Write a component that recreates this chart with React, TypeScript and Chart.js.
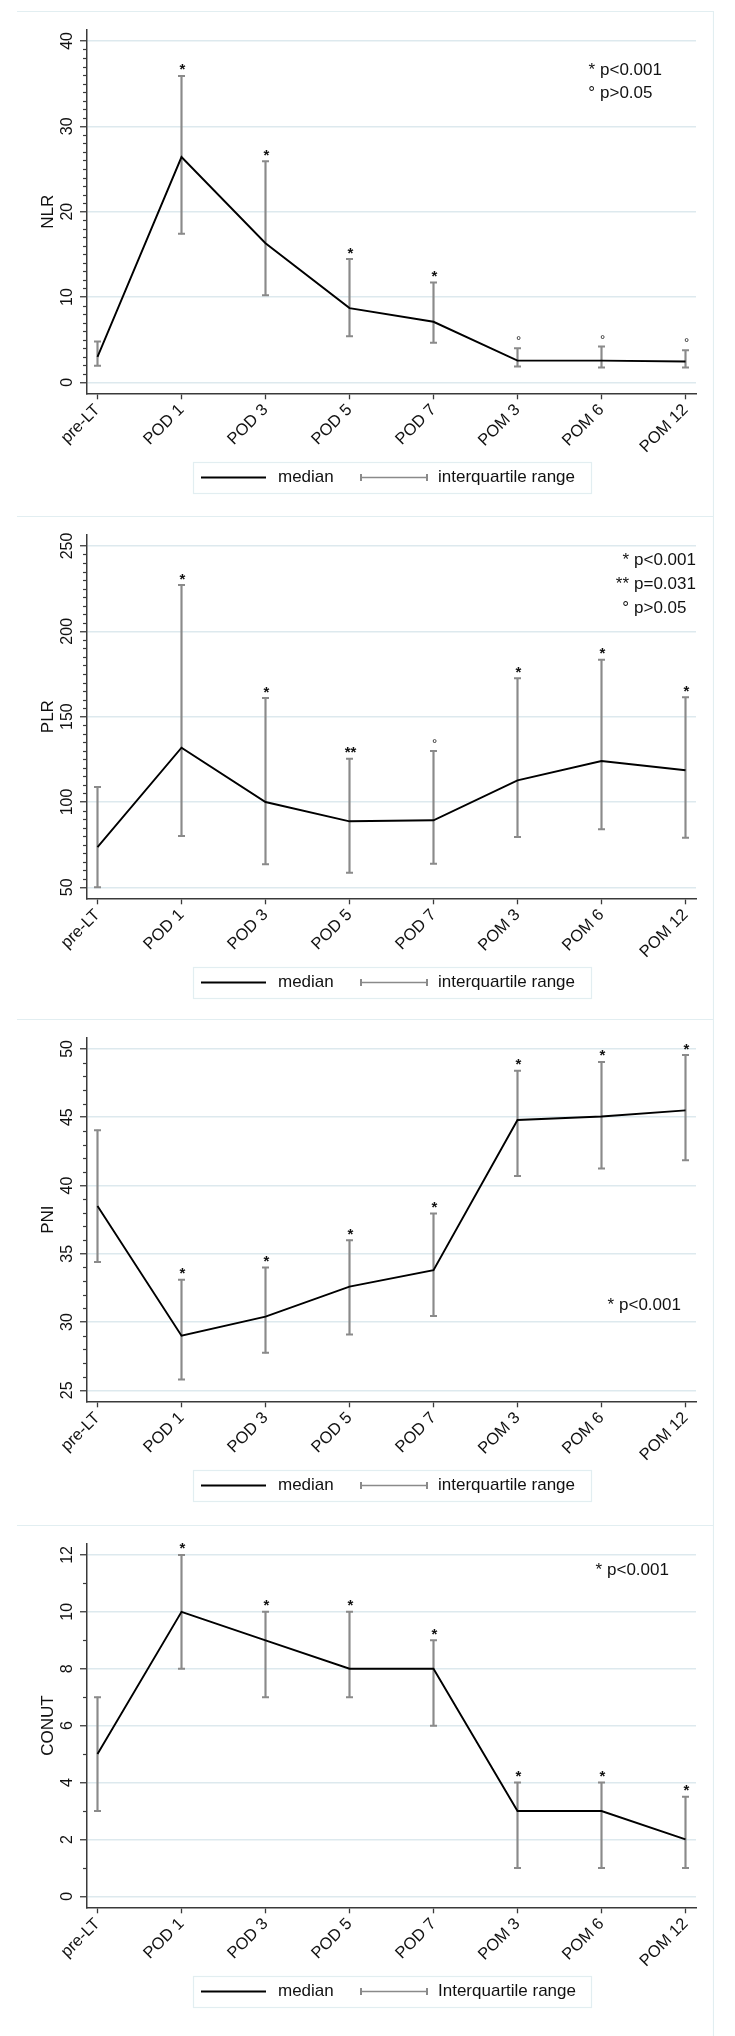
import React, { useEffect, useRef } from 'react';
import { Chart, registerables } from 'chart.js';

Chart.register(...registerables);

// ---------- data ----------
const categories = ['pre-LT', 'POD 1', 'POD 3', 'POD 5', 'POD 7', 'POM 3', 'POM 6', 'POM 12'];

const nlrMedian = [3.0, 26.4, 16.3, 8.7, 7.1, 2.55, 2.55, 2.45];
const nlrQ1 = [1.95, 17.4, 10.2, 5.4, 4.65, 1.85, 1.75, 1.75];
const nlrQ3 = [4.8, 35.9, 25.9, 14.45, 11.7, 4.0, 4.2, 3.75];
const nlrSig = ['', '*', '*', '*', '*', '°', '°', '°'];
const nlrTicks = [0, 10, 20, 30, 40];

const plrMedian = [73.6, 131.8, 100, 88.7, 89.3, 112.7, 124, 118.6];
const plrQ1 = [50, 80.1, 63.5, 58.6, 63.9, 79.5, 84, 79.1];
const plrQ3 = [108.8, 227.1, 160.9, 125.4, 129.9, 172.5, 183.4, 161.3];
const plrSig = ['', '*', '*', '**', '°', '*', '*', '*'];
const plrTicks = [50, 100, 150, 200, 250];

const pniMedian = [38.5, 29.0, 30.4, 32.6, 33.8, 44.8, 45.05, 45.5];
const pniQ1 = [34.4, 25.8, 27.75, 29.1, 30.45, 40.7, 41.25, 41.85];
const pniQ3 = [44.05, 33.1, 34.0, 36.0, 37.95, 48.4, 49.05, 49.55];
const pniSig = ['', '*', '*', '*', '*', '*', '*', '*'];
const pniTicks = [25, 30, 35, 40, 45, 50];

const conutMedian = [5, 10, 9, 8, 8, 3, 3, 2];
const conutQ1 = [3, 8, 7, 7, 6, 1, 1, 1];
const conutQ3 = [7, 12, 10, 10, 9, 4, 4, 3.5];
const conutSig = ['', '*', '*', '*', '*', '*', '*', '*'];
const conutTicks = [0, 2, 4, 6, 8, 10, 12];

const nlrNotes = [['*', 'p<0.001'], ['°', 'p>0.05']];
const plrNotes = [['*', 'p<0.001'], ['**', 'p=0.031'], ['°', 'p>0.05']];
const pniNotes = [['*', 'p<0.001']];
const conutNotes = [['*', 'p<0.001']];

// ---------- styles ----------
const FONT = '"Liberation Sans", Arial, Helvetica, sans-serif';
const GRID = '#dde9ee';
const FRAME = '#e2eef1';
const AXIS = '#3a3a3a';
const RANGE = '#8a8a8a';
const TEXT = '#111111';
const CANVAS_W = 697;

const panels = [
  { title: 'NLR', median: nlrMedian, q1: nlrQ1, q3: nlrQ3, sig: nlrSig, yTicks: nlrTicks, minorStep: 1,
    notes: nlrNotes, noteX: 583, noteY: 59, noteGap: 23, rangeLabel: 'interquartile range', top: 11, height: 505 },
  { title: 'PLR', median: plrMedian, q1: plrQ1, q3: plrQ3, sig: plrSig, yTicks: plrTicks, minorStep: 5,
    notes: plrNotes, noteX: 617, noteY: 44, noteGap: 24, rangeLabel: 'interquartile range', top: 516, height: 503 },
  { title: 'PNI', median: pniMedian, q1: pniQ1, q3: pniQ3, sig: pniSig, yTicks: pniTicks, minorStep: 1,
    notes: pniNotes, noteX: 602, noteY: 286, noteGap: 24, rangeLabel: 'interquartile range', top: 1019, height: 506 },
  { title: 'CONUT', median: conutMedian, q1: conutQ1, q3: conutQ3, sig: conutSig, yTicks: conutTicks, minorStep: 1,
    notes: conutNotes, noteX: 590, noteY: 45, noteGap: 24, rangeLabel: 'Interquartile range', top: 1525, height: 511 },
];

const decorPlugin: any = {
  id: 'decor',
  afterDraw(chart: any, _args: any, opts: any) {
    const { ctx, chartArea, scales } = chart;
    const xs = scales.x;
    const ys = scales.y;
    ctx.save();

    // panel frame (top + right)
    ctx.strokeStyle = FRAME;
    ctx.lineWidth = 1.2;
    ctx.beginPath();
    ctx.moveTo(0, 0.5);
    ctx.lineTo(chart.width - 0.5, 0.5);
    ctx.lineTo(chart.width - 0.5, chart.height);
    ctx.stroke();

    // minor ticks
    const ticks: number[] = opts.yTicks;
    const lo = ticks[0];
    const hi = ticks[ticks.length - 1];
    ctx.strokeStyle = AXIS;
    ctx.lineWidth = 1.2;
    const n = Math.round((hi - lo) / opts.minorStep);
    for (let k = 0; k <= n; k++) {
      const v = lo + k * opts.minorStep;
      if (ticks.some((t) => Math.abs(t - v) < 1e-9)) continue;
      const py = Math.round(ys.getPixelForValue(v)) + 0.5;
      ctx.beginPath();
      ctx.moveTo(chartArea.left - 4, py);
      ctx.lineTo(chartArea.left, py);
      ctx.stroke();
    }

    // y tick labels (rotated)
    ctx.fillStyle = TEXT;
    ctx.font = `16px ${FONT}`;
    ctx.textAlign = 'center';
    ctx.textBaseline = 'alphabetic';
    for (const t of ticks) {
      const py = ys.getPixelForValue(t);
      ctx.save();
      ctx.translate(chartArea.left - 15.5, py);
      ctx.rotate(-Math.PI / 2);
      ctx.fillText(String(t), 0, 0);
      ctx.restore();
    }

    // y title
    ctx.font = `17px ${FONT}`;
    ctx.save();
    ctx.translate(chartArea.left - 34, (chartArea.top + chartArea.bottom) / 2);
    ctx.rotate(-Math.PI / 2);
    ctx.fillText(opts.title, 0, 0);
    ctx.restore();

    // significance markers
    ctx.textAlign = 'center';
    ctx.textBaseline = 'alphabetic';
    opts.sig.forEach((s: string, i: number) => {
      if (!s) return;
      const px = xs.getPixelForValue(i) + 1;
      const py = ys.getPixelForValue(opts.q3[i]);
      ctx.font = s === '°' ? `13px ${FONT}` : `bold 15px ${FONT}`;
      ctx.fillText(s, px, py - (s === '°' ? 3 : 1.5));
    });

    // p-value notes
    ctx.font = `17px ${FONT}`;
    ctx.textBaseline = 'middle';
    opts.notes.forEach((nt: string[], i: number) => {
      const y = opts.noteY + i * opts.noteGap;
      ctx.textAlign = 'right';
      ctx.fillText(nt[0], opts.noteX - 5, y);
      ctx.textAlign = 'left';
      ctx.fillText(nt[1], opts.noteX, y);
    });

    // legend
    const bw = 398;
    const bh = 31;
    const bx = Math.round((chartArea.left + chartArea.right) / 2 - bw / 2);
    const by = Math.round(chartArea.bottom + 68.5);
    ctx.fillStyle = '#ffffff';
    ctx.fillRect(bx, by, bw, bh);
    ctx.strokeStyle = FRAME;
    ctx.lineWidth = 1.2;
    ctx.strokeRect(bx + 0.5, by + 0.5, bw, bh);
    const cy = by + bh / 2;
    const ds = chart.data.datasets;
    ctx.strokeStyle = '#000000';
    ctx.lineWidth = 1.8;
    ctx.beginPath();
    ctx.moveTo(bx + 8, cy);
    ctx.lineTo(bx + 73, cy);
    ctx.stroke();
    ctx.fillStyle = TEXT;
    ctx.font = `17px ${FONT}`;
    ctx.textAlign = 'left';
    ctx.textBaseline = 'middle';
    ctx.fillText(ds[0].label, bx + 85, cy);
    ctx.strokeStyle = RANGE;
    ctx.lineWidth = 1.5;
    ctx.beginPath();
    ctx.moveTo(bx + 168, cy);
    ctx.lineTo(bx + 234, cy);
    ctx.stroke();
    ctx.lineWidth = 2;
    ctx.beginPath();
    ctx.moveTo(bx + 168, cy - 3.5);
    ctx.lineTo(bx + 168, cy + 3.5);
    ctx.moveTo(bx + 234, cy - 3.5);
    ctx.lineTo(bx + 234, cy + 3.5);
    ctx.stroke();
    ctx.fillText(ds[1].label, bx + 245, cy);

    ctx.restore();
  },
};

function buildConfig(p: any): any {
  const lo = p.yTicks[0];
  const hi = p.yTicks[p.yTicks.length - 1];
  const pad = (hi - lo) * 0.032;
  return {
    type: 'line',
    data: {
      datasets: [
        {
          type: 'line',
          label: 'median',
          data: p.median.map((v: number, i: number) => ({ x: i, y: v })),
          borderColor: '#000000',
          borderWidth: 1.9,
          pointRadius: 0,
          tension: 0,
          order: 0,
        },
        {
          type: 'bar',
          label: p.rangeLabel,
          data: p.q1.map((v: number, i: number) => ({ x: i, y: [v, p.q3[i]] })),
          backgroundColor: RANGE,
          borderWidth: 0,
          barThickness: 1.5,
          order: 2,
        },
        {
          type: 'line',
          label: 'q1',
          data: p.q1.map((v: number, i: number) => ({ x: i, y: v })),
          showLine: false,
          pointStyle: 'line',
          pointRadius: 3.5,
          pointBorderColor: RANGE,
          pointBorderWidth: 2,
          borderColor: RANGE,
          order: 1,
        },
        {
          type: 'line',
          label: 'q3',
          data: p.q3.map((v: number, i: number) => ({ x: i, y: v })),
          showLine: false,
          pointStyle: 'line',
          pointRadius: 3.5,
          pointBorderColor: RANGE,
          pointBorderWidth: 2,
          borderColor: RANGE,
          order: 1,
        },
      ],
    },
    options: {
      animation: false,
      responsive: false,
      devicePixelRatio: 1,
      events: [],
      layout: { padding: { top: 19, right: 18, left: 0, bottom: 0 } },
      plugins: {
        legend: { display: false },
        tooltip: { enabled: false },
        decor: {
          title: p.title,
          yTicks: p.yTicks,
          minorStep: p.minorStep,
          sig: p.sig,
          q3: p.q3,
          notes: p.notes,
          noteX: p.noteX,
          noteY: p.noteY,
          noteGap: p.noteGap,
        },
      },
      scales: {
        x: {
          type: 'linear',
          offset: false,
          min: -0.125,
          max: categories.length - 1 + 0.125,
          afterBuildTicks: (scale: any) => {
            scale.ticks = categories.map((_c, i) => ({ value: i }));
          },
          afterFit: (scale: any) => {
            scale.height = p.height - 382.3;
          },
          ticks: {
            autoSkip: false,
            minRotation: 45,
            maxRotation: 45,
            padding: 1,
            color: TEXT,
            font: { family: FONT, size: 16.5 },
            callback: (_v: any, i: number) => categories[i],
          },
          grid: {
            offset: false,
            drawOnChartArea: false,
            drawTicks: true,
            tickLength: 6,
            tickColor: AXIS,
            tickWidth: 1.3,
          },
          border: { display: true, color: AXIS, width: 1.5 },
        },
        y: {
          type: 'linear',
          min: lo - pad,
          max: hi + pad,
          afterBuildTicks: (scale: any) => {
            scale.ticks = p.yTicks.map((v: number) => ({ value: v }));
          },
          afterFit: (scale: any) => {
            scale.width = 70;
          },
          ticks: { display: false },
          grid: {
            color: GRID,
            lineWidth: 1.5,
            drawTicks: true,
            tickLength: 7,
            tickColor: AXIS,
            tickWidth: 1.3,
          },
          border: { display: true, color: AXIS, width: 1.5 },
        },
      },
    },
    plugins: [decorPlugin],
  };
}

function Panel({ spec }: { spec: any }) {
  const ref = useRef<HTMLCanvasElement>(null);
  useEffect(() => {
    const chart = new Chart(ref.current as HTMLCanvasElement, buildConfig(spec));
    return () => chart.destroy();
  }, [spec]);
  return (
    <div style={{ position: 'absolute', left: 17, top: spec.top, width: CANVAS_W, height: spec.height }}>
      <canvas
        ref={ref}
        width={CANVAS_W}
        height={spec.height}
        style={{ display: 'block', width: CANVAS_W, height: spec.height }}
      />
    </div>
  );
}

export default function App() {
  return (
    <div style={{ position: 'absolute', left: 0, top: 0, width: 735, height: 2036, background: '#ffffff' }}>
      {panels.map((p) => (
        <Panel key={p.title} spec={p} />
      ))}
    </div>
  );
}
